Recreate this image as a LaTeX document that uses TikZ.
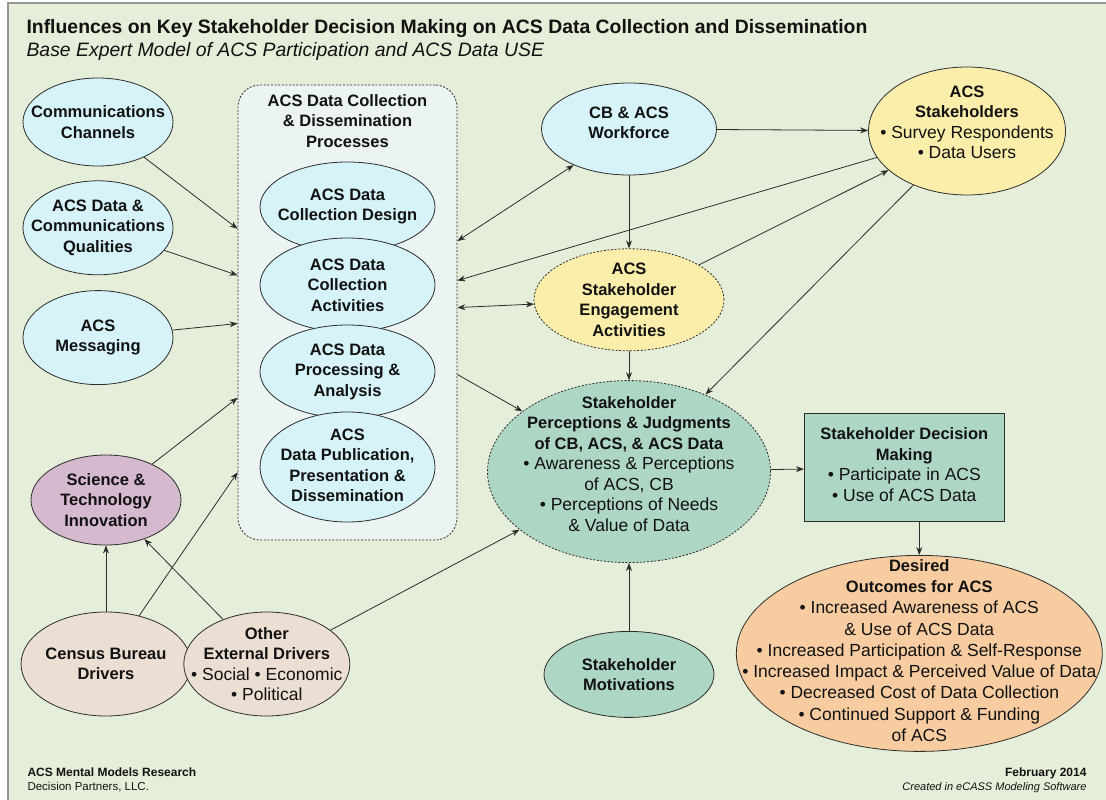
\documentclass[tikz,border=0pt]{standalone}
\usepackage{fontspec}
\setmainfont{Liberation Sans}
\usepackage{xcolor}
\usepackage{tikz}
\usetikzlibrary{arrows.meta,positioning,shapes.geometric}
\definecolor{mybg}{RGB}{229,238,216}
\definecolor{myframe}{RGB}{150,150,150}
\definecolor{myblue}{RGB}{214,243,250}
\definecolor{mypale}{RGB}{235,244,243}
\definecolor{myyellow}{RGB}{250,238,170}
\definecolor{mygreen}{RGB}{173,214,196}
\definecolor{mypurple}{RGB}{212,185,207}
\definecolor{mybeige}{RGB}{234,223,210}
\definecolor{myorange}{RGB}{248,204,161}
\definecolor{myline}{RGB}{45,45,45}
\newcommand{\rgl}{\fontsize{17.5}{20.5}\selectfont\mdseries}

\begin{document}
\begin{tikzpicture}[x=1pt, y=-1pt,
  every node/.style={font=\fontsize{16.5}{20.5}\selectfont\bfseries, align=center, text=black!93},
  bubble/.style={ellipse, draw=myline, line width=0.8pt, inner sep=-60pt},
  chan/.style={bubble, fill=myblue, minimum width=150pt, minimum height=94pt},
  inner/.style={bubble, fill=myblue, minimum width=175pt, minimum height=93pt},
  drv/.style={bubble, fill=mybeige, minimum height=104pt},
  stake/.style={bubble, fill=myyellow},
  judg/.style={bubble, fill=mygreen},
  dot/.style={dash pattern=on 2pt off 1.6pt},
  group/.style={draw=myline, line width=0.8pt, dot, fill=mypale, rounded corners=22pt, minimum width=219pt, minimum height=455pt},
  arr/.style={-{Stealth[length=8pt, width=6pt]}, line width=0.8pt, myline},
  twoway/.style={{Stealth[length=8pt, width=6pt]}-{Stealth[length=8pt, width=6pt]}, line width=0.8pt, myline}
]
\useasboundingbox (0,0) rectangle (1106,800);
\fill[white] (0,0) rectangle (1106,800);
\fill[mybg] (8,3) rectangle (1106,800);
\draw[myframe, line width=2pt] (8,800) -- (8,3) -- (1106,3);

\node[anchor=base west, font=\fontsize{19.4}{23}\selectfont\bfseries] (title) at (23,34) {Influences on Key Stakeholder Decision Making on ACS Data Collection and Dissemination};
\node[anchor=base west, font=\fontsize{19.4}{23}\selectfont\itshape] (subtitle) at (23,57) {Base Expert Model of ACS Participation and ACS Data USE};

\node[group] (grp) at (347.5,312.5) {};
\node[below=6pt of grp.north] (grptitle) {ACS Data Collection\\\& Dissemination\\Processes};
\node[inner, minimum height=90pt, text depth=5pt] (design) at (347.5,207) {ACS Data\\Collection Design};
\node[inner, minimum height=94pt] (act) at (347.5,285) {ACS Data\\Collection\\Activities};
\node[inner] (anl) at (347.5,371.5) {ACS Data\\Processing \&\\Analysis};
\node[inner, minimum height=110pt, text depth=4pt] (pub) at (347.5,467) {ACS\\Data Publication,\\Presentation \&\\Dissemination};

\node[chan, minimum height=88pt] (comm) at (98,122) {Communications\\Channels};
\node[chan, below=14pt of comm] (qual) {ACS Data \&\\Communications\\Qualities};
\node[chan, below=15pt of qual] (msg) {ACS\\Messaging};
\node[bubble, fill=mypurple, minimum width=150pt, minimum height=90pt] (sci) at (106,500) {Science \&\\Technology\\Innovation};
\node[drv, minimum width=170pt] (cbd) at (106,664) {Census Bureau\\Drivers};
\node[drv, minimum width=166pt, right=-8pt of cbd] (oed) {Other\\External Drivers\\{\rgl • Social • Economic}\\{\rgl • Political}};

\node[chan, minimum width=175pt, minimum height=92pt, text depth=13pt] (wf) at (629,129) {CB \& ACS\\Workforce};
\node[stake, minimum width=197pt, minimum height=128pt, text depth=18pt] (stk) at (967,131) {ACS\\Stakeholders\\{\rgl • Survey Respondents}\\{\rgl • Data Users}};
\node[stake, dot, minimum width=190pt, minimum height=102pt, below=73pt of wf] (eng) {ACS\\Stakeholder\\Engagement\\Activities};
\node[judg, dot, minimum width=283pt, minimum height=182pt, below=29pt of eng, text depth=16pt] (perc) {Stakeholder\\Perceptions \& Judgments\\of CB, ACS, \& ACS Data\\{\rgl • Awareness \& Perceptions}\\{\rgl of ACS, CB}\\{\rgl • Perceptions of Needs}\\{\rgl \& Value of Data}};
\node[judg, minimum width=170pt, minimum height=86pt, below=68pt of perc] (mot) {Stakeholder\\Motivations};
\node[rectangle, draw=myline, line width=0.8pt, fill=mygreen, minimum width=200pt, minimum height=108pt, right=33pt of perc, yshift=4pt, text depth=6pt] (dec) {Stakeholder Decision\\Making\\{\rgl • Participate in ACS}\\{\rgl • Use of ACS Data}};
\node[bubble, fill=myorange, minimum width=366pt, minimum height=196pt, below=33pt of dec, xshift=15pt, text depth=6pt, font=\fontsize{16.5}{21.25}\selectfont\bfseries] (out) {Desired\\Outcomes for ACS\\{\rgl • Increased Awareness of ACS}\\{\rgl \& Use of ACS Data}\\{\rgl • Increased Participation \& Self-Response}\\{\rgl • Increased Impact \& Perceived Value of Data}\\{\rgl • Decreased Cost of Data Collection}\\{\rgl • Continued Support \& Funding}\\{\rgl of ACS}};

\node[anchor=base west, font=\fontsize{12}{14}\selectfont\bfseries] (org) at (24,776) {ACS Mental Models Research};
\node[anchor=base west, font=\fontsize{11.5}{14}\selectfont] (firm) at (24,790) {Decision Partners, LLC.};
\node[anchor=base east, font=\fontsize{12}{14}\selectfont\bfseries] (date) at (1090,776) {February 2014};
\node[anchor=base east, font=\fontsize{11}{14}\selectfont\itshape] (tool) at (1090,790) {Created in eCASS Modeling Software};

\draw[arr] (comm) -- (grp);
\draw[arr] (qual) -- (grp);
\draw[arr] (msg) -- (grp);
\draw[arr] (sci) -- (grp);
\draw[arr] (cbd) -- (sci);
\draw[arr] (cbd) -- (grp);
\draw[arr] (oed) -- (sci);
\draw[arr] (oed) -- (perc);
\draw[twoway] (grp) -- (wf);
\draw[arr] (stk) -- (grp);
\draw[twoway] (grp) -- (eng);
\draw[arr] (grp) -- (perc);
\draw[arr] (wf) -- (eng);
\draw[arr] (wf) -- (stk);
\draw[arr] (eng) -- (stk);
\draw[arr] (stk) -- (perc);
\draw[arr] (eng) -- (perc);
\draw[arr] (perc) -- (dec);
\draw[arr] (dec.south -| out.north) -- (out.north);
\draw[arr] (mot) -- (perc);
\end{tikzpicture}
\end{document}
